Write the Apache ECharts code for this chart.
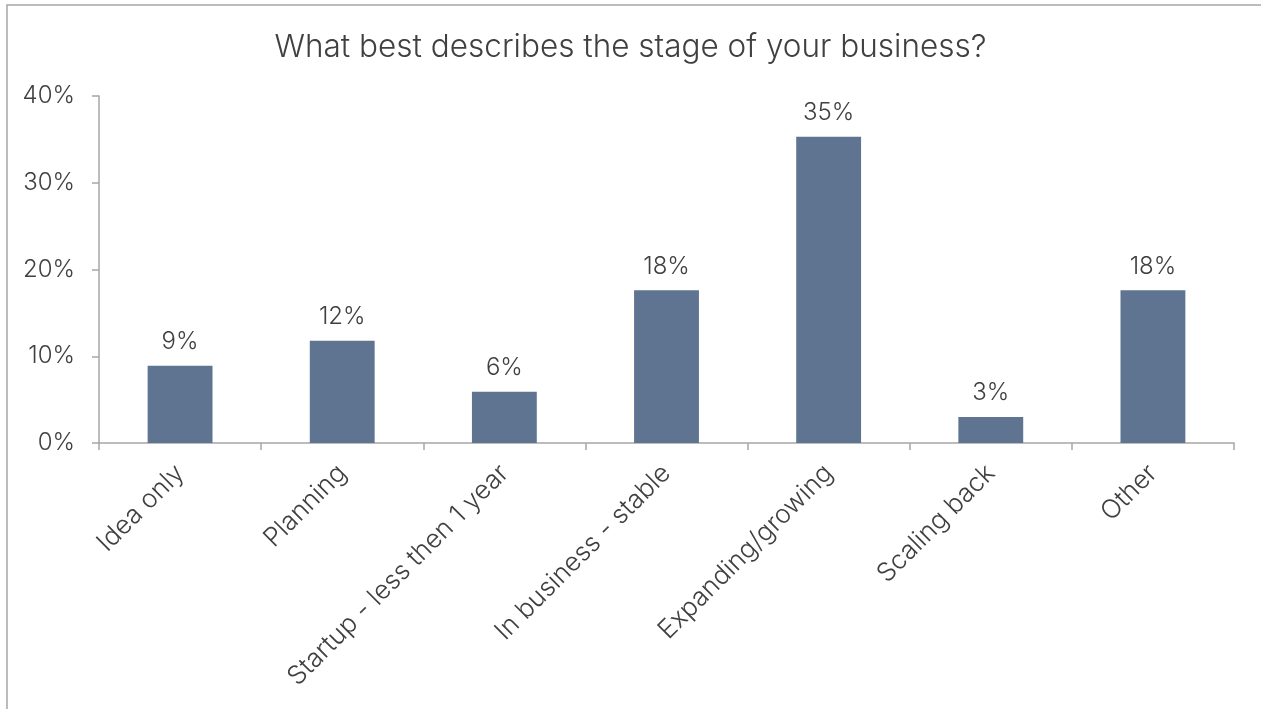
<!DOCTYPE html>
<html><head><meta charset="utf-8">
<script src="https://cdn.jsdelivr.net/npm/echarts@6/dist/echarts.min.js"></script>
<style>html,body{margin:0;padding:0;background:#fff}#c{width:1261px;height:709px}</style>
</head><body><div id="c"></div>
<script>
const title = "What best describes the stage of your business?";
const categories = ["Idea only","Planning","Startup - less then 1 year","In business - stable","Expanding/growing","Scaling back","Other"];
const values = [8.9, 11.8, 5.9, 17.6, 35.3, 3.0, 17.6];
const yTicks = [0, 10, 20, 30, 40];

const font = "Inter, 'Noto Sans', sans-serif";
const chart = echarts.init(document.getElementById('c'));
chart.setOption({
  animation:false,
  backgroundColor:'#fff',
  graphic:[{type:'rect',shape:{x:7,y:5,width:1400,height:900},style:{fill:'none',stroke:'#a6a6a6',lineWidth:1.5},silent:true}],
  title:{text:title,left:'center',top:27,textStyle:{fontFamily:font,fontSize:31.5,fontWeight:300,color:'#404040'}},
  grid:{left:99,right:27,top:96,bottom:266},
  xAxis:{type:'category',data:categories,
    axisLine:{lineStyle:{color:'#a6a6a6',width:1.5}},
    axisTick:{show:true,length:7,lineStyle:{color:'#a6a6a6',width:1.5}},
    axisLabel:{rotate:45,interval:0,margin:26,fontFamily:font,fontSize:26,fontWeight:300,color:'#404040'}},
  yAxis:{type:'value',min:yTicks[0],max:yTicks[yTicks.length-1],interval:10,
    axisLine:{show:true,lineStyle:{color:'#a6a6a6',width:1.5}},
    axisTick:{show:true,length:7,lineStyle:{color:'#a6a6a6',width:1.5}},
    splitLine:{show:false},
    axisLabel:{formatter:v=>v+'%',margin:24,fontFamily:font,fontSize:24,fontWeight:300,color:'#404040'}},
  series:[{type:'bar',data:values,barWidth:'40%',itemStyle:{color:'#5e7491'},
    label:{show:true,position:'top',distance:12,formatter:p=>Math.round(p.value)+'%',fontFamily:font,fontSize:24,fontWeight:300,color:'#404040'}}]
});
</script></body></html>
